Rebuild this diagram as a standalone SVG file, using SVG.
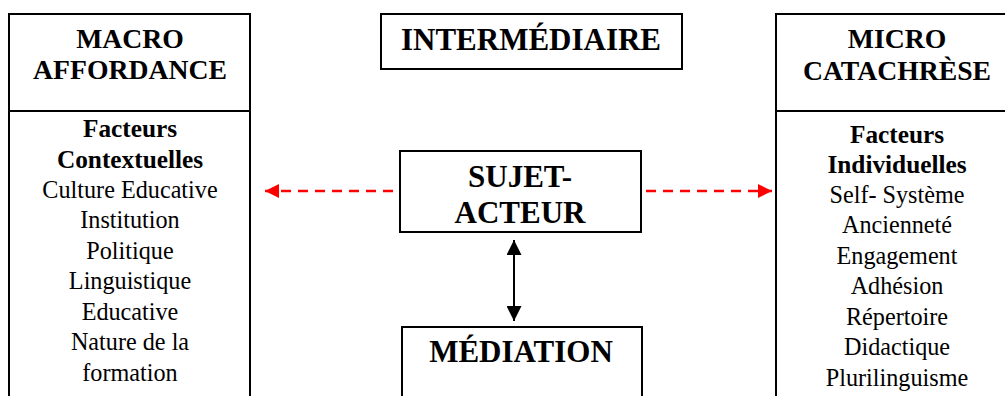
<svg xmlns="http://www.w3.org/2000/svg" width="1005" height="396" viewBox="0 0 1005 396">
<style>
.box{fill:#fff;stroke:#000;stroke-width:2}
text{font-family:'Liberation Serif','Times New Roman',Times,serif;text-anchor:middle;fill:#000}
.h{font-weight:bold;font-size:27.7px}
.hc{font-weight:bold;font-size:31px}
.b{font-weight:bold;font-size:25.3px}
.r{font-size:24.2px}
.red{stroke:#ff0000;stroke-width:2.5;stroke-dasharray:10,7;fill:none}
.blk{stroke:#000;stroke-width:2;fill:none}
</style>
<defs>
<marker id="ar" viewBox="0 0 10 10" refX="10" refY="5" markerWidth="14" markerHeight="14" markerUnits="userSpaceOnUse" orient="auto-start-reverse"><path d="M0,0 L10,5 L0,10 z" fill="#ff0000"/></marker>
<marker id="ab" viewBox="0 0 10 10" refX="10" refY="5" markerWidth="15" markerHeight="15" markerUnits="userSpaceOnUse" orient="auto-start-reverse"><path d="M0,0 L10,5 L0,10 z" fill="#000"/></marker>
</defs>
<rect width="1005" height="396" fill="#fff"/>
<g id="macro">
<rect class="box" x="9" y="14" width="241" height="400"/>
<line class="blk" x1="9" y1="111" x2="250" y2="111"/>
<text class="h" x="130" y="48">MACRO</text>
<text class="h" x="130" y="79">AFFORDANCE</text>
<text class="b" x="130" y="137">Facteurs</text>
<text class="b" x="130" y="168">Contextuelles</text>
<text class="r" x="130" y="198">Culture Educative</text>
<text class="r" x="130" y="228">Institution</text>
<text class="r" x="130" y="259">Politique</text>
<text class="r" x="130" y="289">Linguistique</text>
<text class="r" x="130" y="320">Educative</text>
<text class="r" x="130" y="350">Nature de la</text>
<text class="r" x="130" y="381">formation</text>
</g>
<g id="intermediaire">
<rect class="box" x="381" y="14" width="301" height="55"/>
<text class="hc" x="531" y="50">INTERMÉDIAIRE</text>
</g>
<g id="micro">
<rect class="box" x="776" y="14" width="260" height="400"/>
<line class="blk" x1="776" y1="111" x2="1010" y2="111"/>
<text class="h" x="897" y="48">MICRO</text>
<text class="h" x="897" y="80">CATACHRÈSE</text>
<text class="b" x="897" y="143">Facteurs</text>
<text class="b" x="897" y="173">Individuelles</text>
<text class="r" x="897" y="203">Self- Système</text>
<text class="r" x="897" y="233">Ancienneté</text>
<text class="r" x="897" y="264">Engagement</text>
<text class="r" x="897" y="294">Adhésion</text>
<text class="r" x="897" y="325">Répertoire</text>
<text class="r" x="897" y="355">Didactique</text>
<text class="r" x="897" y="386">Plurilinguisme</text>
</g>
<g id="sujet">
<rect class="box" x="400" y="151" width="241" height="81"/>
<text class="hc" x="520" y="187">SUJET-</text>
<text class="hc" x="520" y="223">ACTEUR</text>
</g>
<g id="mediation">
<rect class="box" x="402" y="327" width="240" height="100"/>
<text class="hc" x="521" y="362">MÉDIATION</text>
</g>
<g id="connectors">
<line class="red" x1="393" y1="191" x2="265" y2="191" marker-end="url(#ar)"/>
<line class="red" x1="646" y1="191" x2="772" y2="191" marker-end="url(#ar)"/>
<line class="blk" x1="514" y1="240" x2="514" y2="321" marker-start="url(#ab)" marker-end="url(#ab)"/>
</g>
</svg>
